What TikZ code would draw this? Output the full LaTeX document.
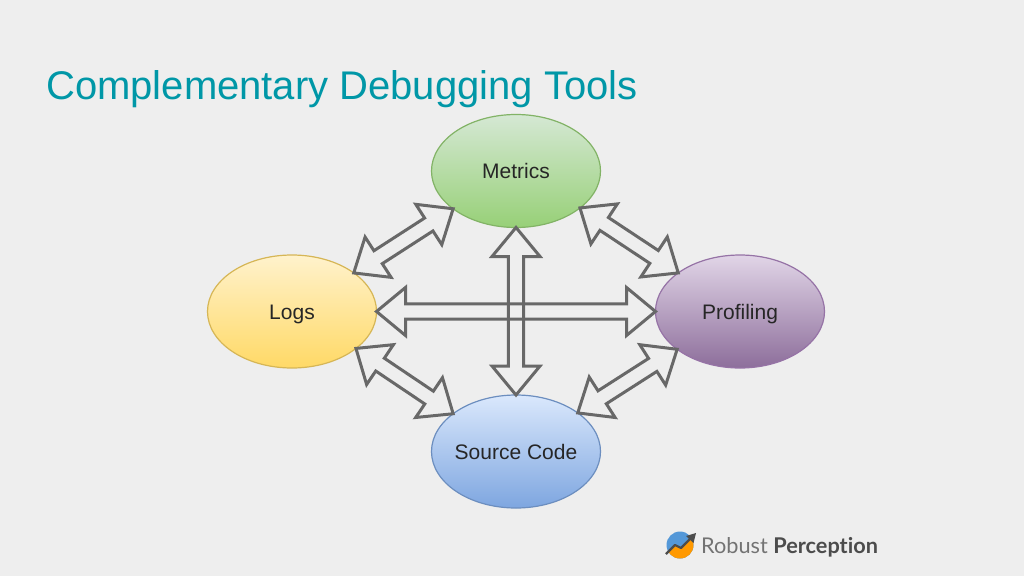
\documentclass[tikz,border=0pt]{standalone}
\usepackage{fontspec}
\setmainfont{Liberation Sans}
\newfontfamily\logofont[Ligatures=NoCommon]{Lato}
\usepackage{tikz}
\usetikzlibrary{calc,shapes.geometric}
\definecolor{slidebg}{HTML}{EEEEEE}
\definecolor{titleteal}{HTML}{0097A7}
\definecolor{arrowgray}{HTML}{686868}
\definecolor{metricsline}{HTML}{82B366}
\definecolor{metricstop}{HTML}{D5E8D4}
\definecolor{metricsend}{HTML}{97D077}
\definecolor{logsline}{HTML}{D6B656}
\definecolor{logstop}{HTML}{FFF2CC}
\definecolor{logsend}{HTML}{FFD966}
\definecolor{profline}{HTML}{9673A6}
\definecolor{proftop}{HTML}{E1D5E7}
\definecolor{profend}{HTML}{8D6E9B}
\definecolor{sourceline}{HTML}{6C8EBF}
\definecolor{sourcetop}{HTML}{DAE8FC}
\definecolor{sourceend}{HTML}{7EA6E0}
\tikzset{
  tool/.style={ellipse,draw,line width=1.2pt,minimum width=169pt,minimum height=113pt,
    inner xsep=-8pt,inner ysep=0pt,outer sep=0pt,text=black!85,text height=15pt,text depth=0pt,
    font=\fontsize{21}{24}\selectfont},
  hollow/.style={draw=arrowgray,line width=3pt,line join=miter,miter limit=10},
}
% hollow arrow with a head at both ends
\newcommand{\bothways}[2]{
  \draw[hollow] (#1)
    --($(#1)!29pt!(#2)!24pt!90:(#2)$)--($(#1)!29pt!(#2)!7.7pt!90:(#2)$)
    --($(#2)!29pt!(#1)!7.7pt!-90:(#1)$)--($(#2)!29pt!(#1)!24pt!-90:(#1)$)
    --(#2)
    --($(#2)!29pt!(#1)!24pt!90:(#1)$)--($(#2)!29pt!(#1)!7.7pt!90:(#1)$)
    --($(#1)!29pt!(#2)!7.7pt!-90:(#2)$)--($(#1)!29pt!(#2)!24pt!-90:(#2)$)
    --cycle;
}
\begin{document}
\begin{tikzpicture}[x=1pt,y=-1pt]
  \fill[slidebg] (0,0) rectangle (1024,576);
  \useasboundingbox (0,0) rectangle (1024,576);
  \node[anchor=base west,inner sep=0pt,text=titleteal,font=\fontsize{40}{44}\selectfont] (title) at (46,99) {Complementary Debugging Tools};

  \node[tool,draw=metricsline,top color=metricstop,bottom color=metricsend] (metrics) at (516,171) {Metrics};
  \node[tool,draw=logsline,top color=logstop,bottom color=logsend] (logs) at (292,311.5) {Logs};
  \node[tool,draw=profline,top color=proftop,bottom color=profend] (profiling) at (740,311.5) {Profiling};
  \node[tool,draw=sourceline,top color=sourcetop,bottom color=sourceend] (source) at (516,451.5) {Source Code};

  \bothways{logs.32}{metrics.211}
  \bothways{metrics.-30}{profiling.148}
  \bothways{logs.-30}{source.149}
  \bothways{source.32}{profiling.211}
  \bothways{logs.east}{profiling.west}
  \bothways{metrics.south}{source.north}

  % logo
  \fill[cyan!60!blue!70!white] (680,545) circle (13.5);
  \begin{scope}
    \clip (680,545) circle (13.5);
    \fill[orange!80!yellow] (664,556)--(675,545)--(681,548)--(696,534)--(696,562)--(664,562)--cycle;
  \end{scope}
  \draw[black!70,line width=2.2pt,line join=round] (666,554)--(675,545)--(681,548)--(691,538);
  \fill[black!70] (696,533)--(693.5,543)--(686,536)--cycle;
  \node[anchor=base west,inner sep=0pt,text=black!55,font=\logofont\fontsize{21.7}{26}\selectfont] (brand) at (701,553) {Robust \textcolor{black!70}{\textbf{Perception}}};
\end{tikzpicture}
\end{document}
